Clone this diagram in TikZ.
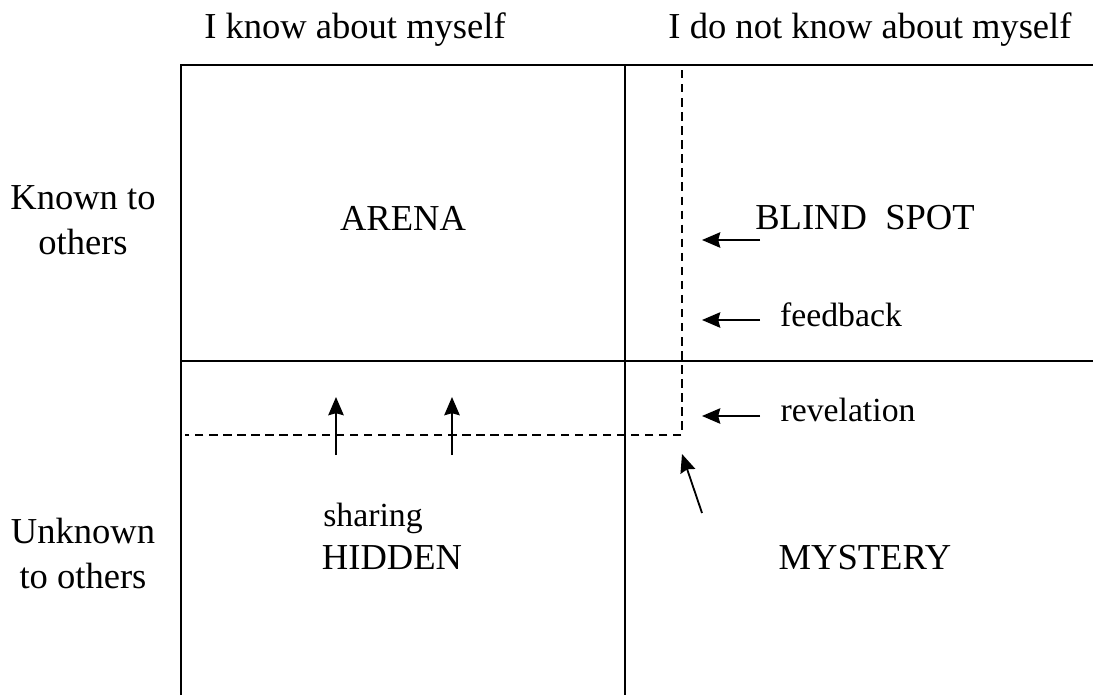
\documentclass[tikz,border=0pt]{standalone}
\usepackage{fontspec}
\setmainfont{Liberation Serif}
\usetikzlibrary{arrows.meta}

\begin{document}
\begin{tikzpicture}[x=0.25mm,y=-0.25mm,
  frame/.style={line width=1.6pt},
  hint/.style={line width=1.2pt,dash pattern=on 6pt off 4pt},
  push/.style={line width=1.3pt,-{Stealth[length=13pt,width=11pt,inset=1.5pt]}},
  big/.style={font=\fontsize{26}{32}\selectfont,align=center},
  small/.style={font=\fontsize{24}{28}\selectfont}]
\useasboundingbox (0,0) rectangle (1093,695);

\coordinate (TL) at (181,65);
\coordinate (TM) at (625,65);
\coordinate (TR) at (1093,65);
\coordinate (ML) at (181,361);
\coordinate (MR) at (1093,361);
\coordinate (BL) at (181,695);
\coordinate (BM) at (625,695);

\draw[frame] (BL) -- (TL) -- (TR);
\draw[frame] (TM) -- (BM);
\draw[frame] (ML) -- (MR);

\coordinate (DT) at (682,70);
\coordinate (DC) at (682,435);
\coordinate (DL) at (185,435);
\draw[hint] (DT) -- (DC) -- (DL);

\node[big] (know) at (355,30) {I know about myself};
\node[big] (notknow) at (870,30) {I do not know about myself};
\node[big] (known) at (83,220) {Known to\\others};
\node[big] (unknown) at (83,553) {Unknown\\to others};

\node[big] (arena) at (403,218) {ARENA};
\node[big] (blind) at (865,218) {BLIND\ \ SPOT};
\node[big] (hidden) at (392,558) {HIDDEN};
\node[big] (mystery) at (865,558) {MYSTERY};

\node[small] (feedback) at (841,315) {feedback};
\node[small] (revelation) at (848,410) {revelation};
\node[small] (sharing) at (373,518) {sharing};

\coordinate (a1s) at (760,240); \coordinate (a1e) at (702,240);
\coordinate (a2s) at (760,320); \coordinate (a2e) at (702,320);
\coordinate (a3s) at (760,416); \coordinate (a3e) at (702,416);
\coordinate (u1s) at (336,455); \coordinate (u1e) at (336,397);
\coordinate (u2s) at (452,455); \coordinate (u2e) at (452,397);
\coordinate (d1s) at (702,513); \coordinate (d1e) at (682,454);

\draw[push] (a1s) -- (a1e);
\draw[push] (a2s) -- (a2e);
\draw[push] (a3s) -- (a3e);
\draw[push] (u1s) -- (u1e);
\draw[push] (u2s) -- (u2e);
\draw[push] (d1s) -- (d1e);

\end{tikzpicture}
\end{document}
